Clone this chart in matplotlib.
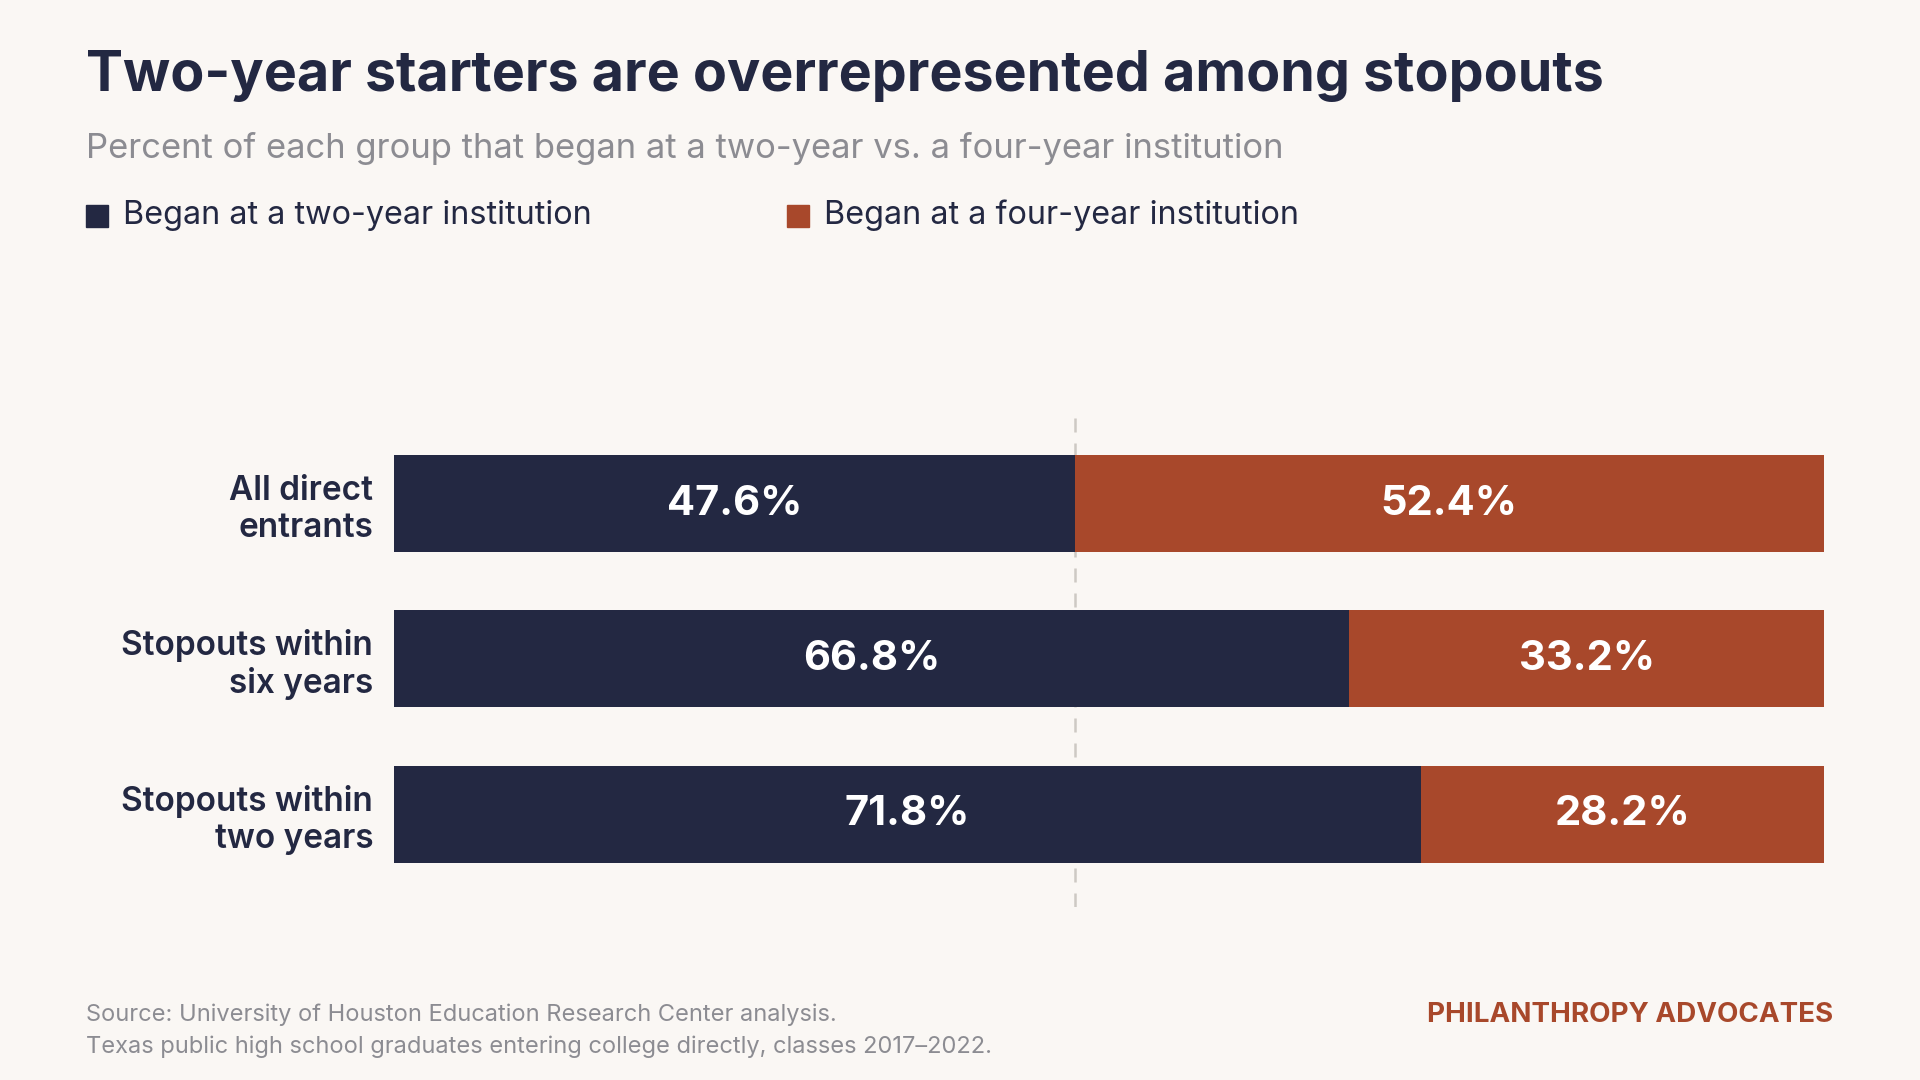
"""Stacked bar: share of each group that began at a two-year vs four-year institution."""

import matplotlib.pyplot as plt

plt.rcParams["font.family"] = ["Inter", "DejaVu Sans"]

categories = ["All direct\nentrants", "Stopouts within\nsix years", "Stopouts within\ntwo years"]
two_year = [47.6, 66.8, 71.8]
four_year = [52.4, 33.2, 28.2]
series_names = ["Began at a two-year institution", "Began at a four-year institution"]

NAVY = "#232842"
RUST = "#a8482b"
BG = "#faf7f4"
GRAY = "#8c8c92"
DASH = "#cdc9c4"

W, H = 1920, 1080


def fx(px):
    return px / W


def fy(py):
    return 1 - py / H


fig = plt.figure(figsize=(19.2, 10.8), dpi=100, facecolor=BG)

# plot area placed in pixel terms
ax = fig.add_axes([fx(394), fy(907), (1824 - 394) / W, (907 - 418) / H])
ax.set_facecolor(BG)

ys = list(range(len(categories)))
bar_h = 0.625
ax.barh(ys, two_year, height=bar_h, color=NAVY, zorder=2)
ax.barh(ys, four_year, left=two_year, height=bar_h, color=RUST, zorder=2)

# reference line at the all-entrants split
ax.axvline(two_year[0], color=DASH, lw=1.8, dashes=(5.6, 4.4), zorder=1)

for y, a, b in zip(ys, two_year, four_year):
    ax.text(a / 2, y, f"{a:.1f}%", ha="center", va="center", color="white",
            fontsize=30, fontweight="bold", zorder=3)
    ax.text(a + b / 2, y, f"{b:.1f}%", ha="center", va="center", color="white",
            fontsize=30, fontweight="bold", zorder=3)

ax.set_xlim(0, 100)
ax.set_ylim(2.599, -0.551)
ax.set_yticks(ys)
ax.set_yticklabels(categories, fontsize=24, fontweight=600, color=NAVY, linespacing=1.2)
ax.tick_params(axis="y", length=0, pad=15)
ax.set_xticks([])
for s in ax.spines.values():
    s.set_visible(False)

# title block
fig.text(fx(86), fy(91), "Two-year starters are overrepresented among stopouts",
         fontsize=40, fontweight="bold", color=NAVY, va="baseline")
fig.text(fx(86), fy(158), "Percent of each group that began at a two-year vs. a four-year institution",
         fontsize=24.9, color=GRAY, va="baseline")

# legend drawn by hand
for x0, name, col in [(86, series_names[0], NAVY), (787, series_names[1], RUST)]:
    fig.patches.append(plt.Rectangle((fx(x0), fy(227)), 22 / W, 22 / H,
                                     transform=fig.transFigure, color=col))
    fig.text(fx(x0 + 37), fy(224), name, fontsize=23.3, color=NAVY, va="baseline")

# footer
fig.text(fx(86), fy(1021), "Source: University of Houston Education Research Center analysis.",
         fontsize=17, color=GRAY, va="baseline")
fig.text(fx(86), fy(1053), "Texas public high school graduates entering college directly, classes 2017\u20132022.",
         fontsize=17, color=GRAY, va="baseline")
fig.text(fx(1833), fy(1022), "PHILANTHROPY ADVOCATES", fontsize=20, fontweight="bold",
         color=RUST, ha="right", va="baseline")

fig.savefig("out.png", dpi=100, facecolor=BG)
